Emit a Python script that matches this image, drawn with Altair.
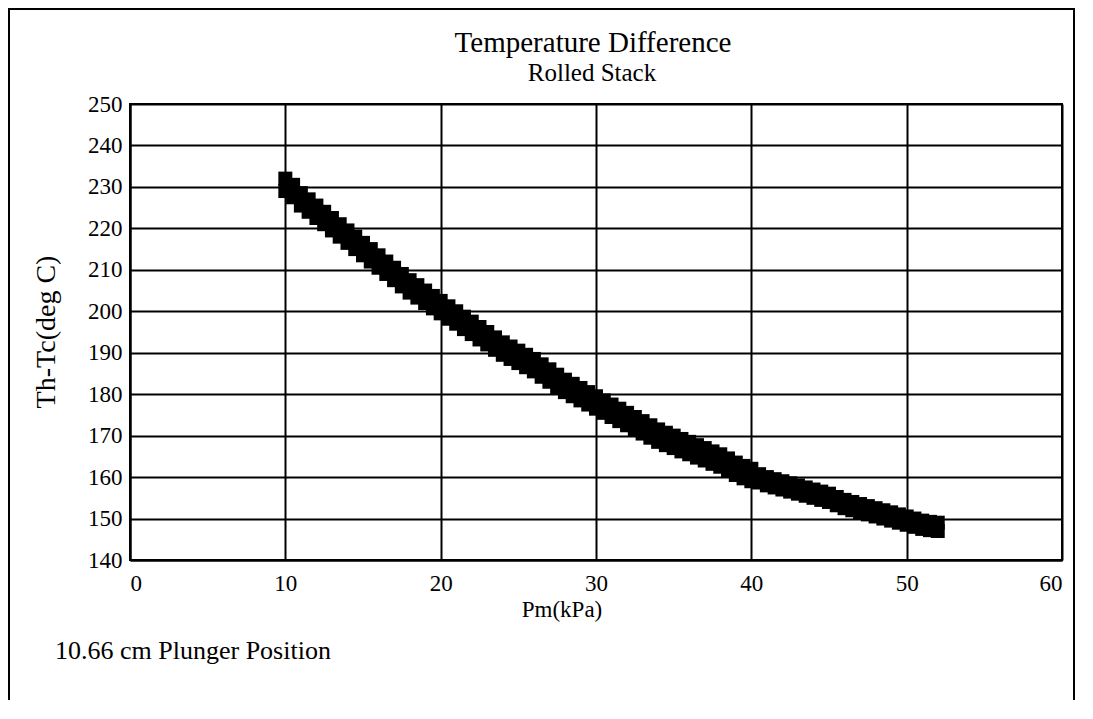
import altair as alt
import pandas as pd

# Pm (kPa) sample positions along the band
pm = [10.0, 10.5, 11.0, 11.5, 12.0, 12.5, 13.0, 13.5, 14.0, 14.5,
      15.0, 15.5, 16.0, 16.5, 17.0, 17.5, 18.0, 18.5, 19.0, 19.5,
      20.0, 20.5, 21.0, 21.5, 22.0, 22.5, 23.0, 23.5, 24.0, 24.5,
      25.0, 25.5, 26.0, 26.5, 27.0, 27.5, 28.0, 28.5, 29.0, 29.5,
      30.0, 30.5, 31.0, 31.5, 32.0, 32.5, 33.0, 33.5, 34.0, 34.5,
      35.0, 35.5, 36.0, 36.5, 37.0, 37.5, 38.0, 38.5, 39.0, 39.5,
      40.0, 40.5, 41.0, 41.5, 42.0, 42.5, 43.0, 43.5, 44.0, 44.5,
      45.0, 45.5, 46.0, 46.5, 47.0, 47.5, 48.0, 48.5, 49.0, 49.5,
      50.0, 50.5, 51.0, 51.5, 52.0]

# Th-Tc (deg C), upper edge of the scatter band
dt_upper = [232, 230.5, 228.5, 227, 225.5, 224, 222.5, 221, 219.5, 218,
            216.5, 215, 213.5, 212, 210.5, 209, 207.5, 206.3, 205, 203.7,
            202.5, 201.2, 200, 198.7, 197.5, 196.2, 195, 193.7, 192.5, 191.5,
            190.5, 189.5, 188.5, 187.2, 186, 184.7, 183.5, 182.5, 181.5, 180.5,
            179.5, 178.5, 177.5, 176.5, 175.5, 174.5, 173.5, 172.5, 171.5, 170.7,
            170, 169.2, 168.5, 167.7, 167, 166.2, 165.5, 164.5, 163.5, 162.7,
            162, 160.7, 160, 159.5, 159, 158.5, 158, 157.5, 157, 156.5,
            156, 155.2, 154.5, 154, 153.5, 153, 152.5, 152, 151.5, 151,
            150.5, 150, 149.5, 149.2, 149]

# Th-Tc (deg C), lower edge of the scatter band
dt_lower = [229, 227.5, 225.5, 224, 222.5, 221, 219.5, 218, 216.5, 215,
            213.5, 212, 210.5, 209, 207.5, 206, 204.5, 203.3, 202, 200.7,
            199.5, 198.2, 197, 195.7, 194.5, 193.2, 192, 190.7, 189.5, 188.5,
            187.5, 186.5, 185.5, 184.2, 183, 181.7, 180.5, 179.5, 178.5, 177.5,
            176.5, 175.5, 174.5, 173.5, 172.5, 171.5, 170.5, 169.5, 168.5, 167.7,
            167, 166.2, 165.5, 164.7, 164, 163.2, 162.5, 161.5, 160.5, 159.7,
            159, 158.7, 158, 157.5, 157, 156.5, 156, 155.5, 155, 154.5,
            154, 153.2, 152.5, 152, 151.5, 151, 150.5, 150, 149.5, 149,
            148.5, 148, 147.5, 147.2, 147]

x_ticks = [0, 10, 20, 30, 40, 50, 60]
y_ticks = [140, 150, 160, 170, 180, 190, 200, 210, 220, 230, 240, 250]

FONT = "Liberation Serif"

df = pd.DataFrame({
    "Pm": pm + pm,
    "dT": dt_upper + dt_lower,
})

W, H = 932, 456

base = alt.Chart(df)

points = base.mark_square(size=196, color="black", filled=True, opacity=1).encode(
    x=alt.X("Pm:Q", scale=alt.Scale(domain=[0, 60], nice=False),
            axis=alt.Axis(values=x_ticks, title=None, ticks=False, labelPadding=30,
                          labelBaseline="alphabetic",
                          labelFont=FONT, labelFontSize=23, labelColor="black",
                          grid=True, gridColor="black", gridWidth=2,
                          domainColor="black", domainWidth=2, format="d")),
    y=alt.Y("dT:Q", scale=alt.Scale(domain=[140, 250], nice=False, zero=False),
            axis=alt.Axis(values=y_ticks, title=None, ticks=False, labelPadding=8,
                          labelFont=FONT, labelFontSize=23, labelColor="black",
                          grid=True, gridColor="black", gridWidth=2,
                          domainColor="black", domainWidth=2, format="d")),
)

one = pd.DataFrame({"a": [0]})
tb = alt.Chart(one)

title = tb.mark_text(font=FONT, fontSize=29, color="black", align="center", baseline="alphabetic").encode(
    x=alt.value(463), y=alt.value(-52), text=alt.value("Temperature Difference"))
subtitle = tb.mark_text(font=FONT, fontSize=25, color="black", align="center", baseline="alphabetic").encode(
    x=alt.value(462), y=alt.value(-23), text=alt.value("Rolled Stack"))
ytitle = tb.mark_text(font=FONT, fontSize=28, color="black", align="center", baseline="middle", angle=270).encode(
    x=alt.value(-83), y=alt.value(228), text=alt.value("Th-Tc(deg C)"))
xtitle = tb.mark_text(font=FONT, fontSize=23, color="black", align="center", baseline="alphabetic").encode(
    x=alt.value(432), y=alt.value(513), text=alt.value("Pm(kPa)"))
note = tb.mark_text(font=FONT, fontSize=26, color="black", align="left", baseline="alphabetic").encode(
    x=alt.value(-75), y=alt.value(555), text=alt.value("10.66 cm Plunger Position"))
frame = tb.mark_rect(fill="transparent", stroke="black", strokeWidth=2).encode(
    x=alt.value(-121), x2=alt.value(944), y=alt.value(-95), y2=alt.value(620))

chart = alt.layer(frame, points, title, subtitle, ytitle, xtitle, note).properties(
    width=W, height=H,
    autosize=alt.AutoSizeParams(type="none"),
    padding={"left": 122, "top": 96, "right": 15, "bottom": 140},
    background="white",
).configure_view(stroke="black", strokeWidth=2)

chart.save("out.html", embed_options={"renderer": "svg", "actions": False})
